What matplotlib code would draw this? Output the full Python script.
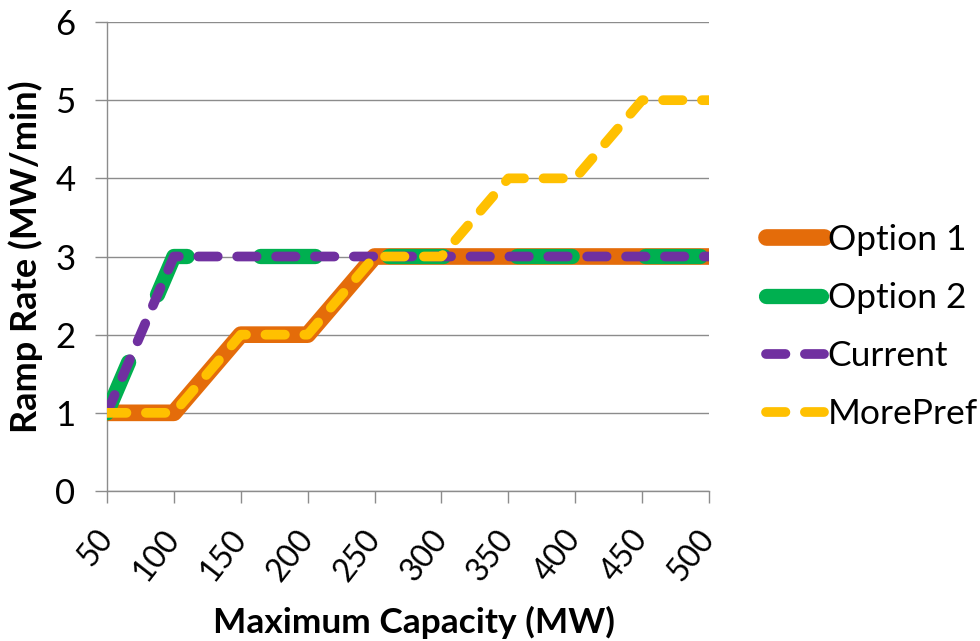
import matplotlib
matplotlib.use("Agg")
import matplotlib.pyplot as plt

plt.rcParams["font.family"] = ["Lato", "DejaVu Sans"]

capacity = ["50", "100", "150", "200", "250", "300", "350", "400", "450", "500"]
option1 = [1, 1, 2, 2, 3, 3, 3, 3, 3, 3]
option2 = [1, 3, 3, 3, 3, 3, 3, 3, 3, 3]
current = [1, 3, 3, 3, 3, 3, 3, 3, 3, 3]
morepref = [1, 1, 2, 2, 3, 3, 4, 4, 5, 5]

ORANGE = "#E46C0A"
GREEN = "#00B050"
PURPLE = "#7030A0"
YELLOW = "#FFC000"
GRID = "#8C8C8C"

fig = plt.figure(figsize=(9.8, 6.41), dpi=100)
ax = fig.add_axes([107 / 980, 1 - 491 / 641, 602 / 980, 469 / 641])

x = list(range(len(capacity)))
common = dict(solid_capstyle="round", dash_capstyle="round",
              solid_joinstyle="round", dash_joinstyle="round")

ax.plot(x, option1, color=ORANGE, lw=12, label="Option 1", zorder=3, **common)
ax.plot(x, option2, color=GREEN, lw=11, dashes=(3.6, 4.8), label="Option 2",
        zorder=4, **common)
ax.plot(x, current, color=PURPLE, lw=7, dashes=(2.0, 2.0), label="Current",
        zorder=5, **common)
ax.plot(x, morepref, color=YELLOW, lw=7, dashes=(2.0, 2.0), label="MorePref",
        zorder=6, **common)

ax.set_xlim(0, len(capacity) - 1)
ax.set_ylim(0, 6)
ax.set_yticks(range(0, 7))
ax.set_xticks(x)
ax.set_xticklabels(capacity, rotation=52, ha="right", rotation_mode="anchor",
                   va="center", fontsize=23)

ax.yaxis.grid(True, color=GRID, lw=1.0)
ax.set_axisbelow(True)
for s in ("top", "right"):
    ax.spines[s].set_visible(False)
for s in ("left", "bottom"):
    ax.spines[s].set_color(GRID)
    ax.spines[s].set_linewidth(1.0)

ax.tick_params(axis="both", direction="out", length=8.6, width=1.0, color=GRID,
               labelcolor="black")
ax.tick_params(axis="y", pad=14, labelsize=25)
ax.tick_params(axis="x", pad=22)

ax.set_xlabel("Maximum Capacity (MW)", fontsize=25.4, fontweight="bold",
              va="center")
ax.xaxis.set_label_coords((414 - 107) / 602, (491 - 622) / 469)
ax.set_ylabel("Ramp Rate (MW/min)", fontsize=26, fontweight="bold",
              va="center")
ax.yaxis.set_label_coords((26 - 107) / 602, 0.5)

fig.legend(loc="center left", bbox_to_anchor=(766 / 980, 1 - 327 / 641),
           frameon=False, fontsize=25.5, handlelength=1.64, handletextpad=0.1,
           labelspacing=0.74, borderpad=0, borderaxespad=0)

fig.savefig("out.png", dpi=100)
